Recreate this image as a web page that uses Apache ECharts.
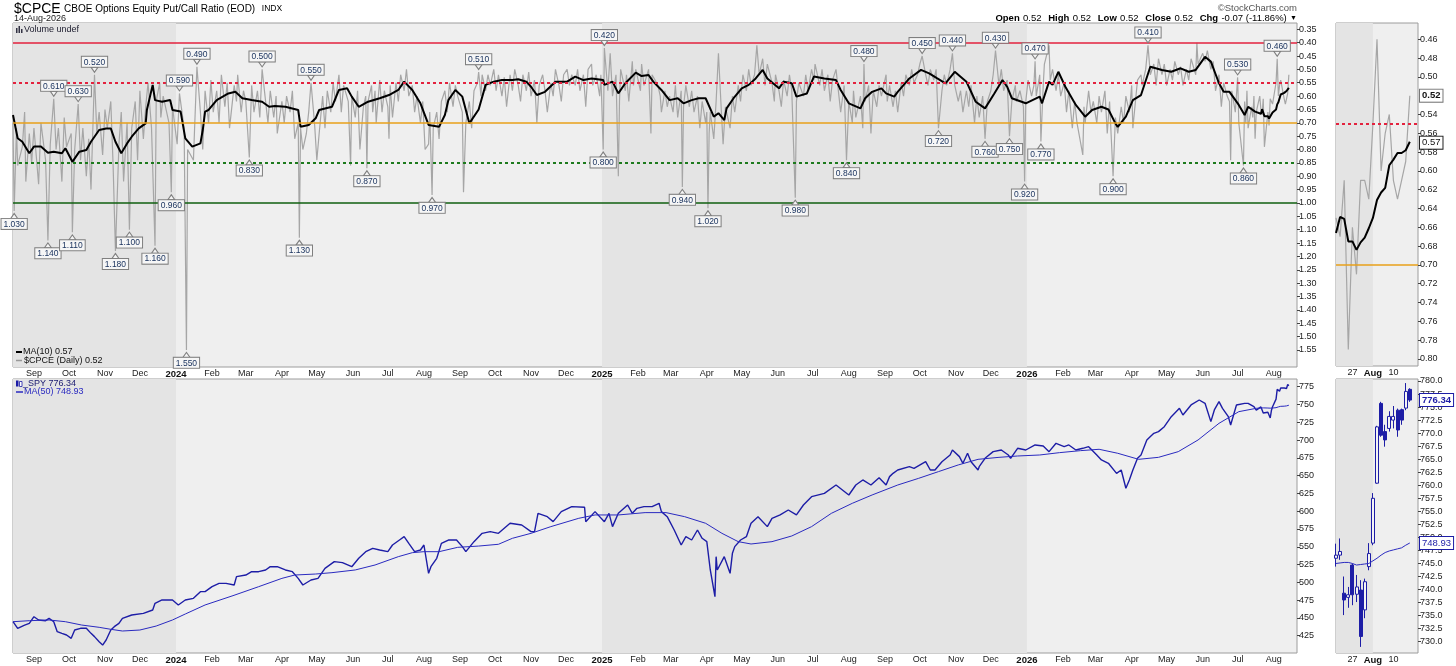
<!DOCTYPE html>
<html><head><meta charset="utf-8">
<script src="https://cdn.jsdelivr.net/npm/echarts@6/dist/echarts.min.js"></script>
<style>html,body{margin:0;padding:0;background:#fff}#c{width:1456px;height:666px}</style>
</head><body><div id="c"></div>
<script>
// ---------------- DATA ----------------
const monthTicks = ['2023-09-01','2023-10-01','2023-11-01','2023-12-01','2024-01-01','2024-02-01','2024-03-01','2024-04-01','2024-05-01','2024-06-01','2024-07-01','2024-08-01','2024-09-01','2024-10-01','2024-11-01','2024-12-01','2025-01-01','2025-02-01','2025-03-01','2025-04-01','2025-05-01','2025-06-01','2025-07-01','2025-08-01','2025-09-01','2025-10-01','2025-11-01','2025-12-01','2026-01-01','2026-02-01','2026-03-01','2026-04-01','2026-05-01','2026-06-01','2026-07-01','2026-08-01'];
const yearBands = ['2023-08-14','2024-01-01','2025-01-01','2026-01-01','2026-08-21'];
const cpceAxisTicks = [0.35,0.40,0.45,0.50,0.55,0.60,0.65,0.70,0.75,0.80,0.85,0.90,0.95,1.00,1.05,1.10,1.15,1.20,1.25,1.30,1.35,1.40,1.45,1.50,1.55];
const cpceZoomTicks = [0.46,0.48,0.50,0.54,0.56,0.58,0.60,0.62,0.64,0.66,0.68,0.70,0.72,0.74,0.76,0.78,0.80];
const spyAxisTicks = [425,450,475,500,525,550,575,600,625,650,675,700,725,750,775];
const spyZoomTicks = [730,732.5,735,737.5,740,742.5,745,747.5,750,752.5,755,757.5,760,762.5,765,767.5,770,772.5,775,777.5,780];
const cpceTags = [0.52, 0.57];
const spyTags = [776.34, 748.93];
const refLevels = [0.40, 0.55, 0.70, 0.85, 1.00];

const cpceDaily = [
['2023-08-14',0.70],['2023-08-15',1.03],['2023-08-17',0.72],['2023-08-18',0.86],['2023-08-22',0.79],['2023-08-24',0.66],['2023-08-25',0.92],['2023-08-28',0.74],['2023-08-30',0.85],['2023-09-01',0.72],['2023-09-05',0.93],['2023-09-07',0.70],['2023-09-11',0.84],['2023-09-13',1.14],['2023-09-15',0.78],['2023-09-18',0.61],['2023-09-20',0.80],['2023-09-22',0.72],['2023-09-25',0.92],['2023-09-27',0.68],['2023-09-29',0.79],['2023-10-03',0.74],['2023-10-04',1.11],['2023-10-06',0.80],['2023-10-09',0.63],['2023-10-11',0.84],['2023-10-13',0.72],['2023-10-16',0.90],['2023-10-18',0.76],['2023-10-20',0.95],['2023-10-23',0.52],['2023-10-25',0.74],['2023-10-27',0.66],['2023-10-30',0.82],['2023-11-01',0.65],['2023-11-03',0.72],['2023-11-06',0.62],['2023-11-08',0.86],['2023-11-10',1.18],['2023-11-13',0.78],['2023-11-15',0.66],['2023-11-17',0.92],['2023-11-20',0.70],['2023-11-22',1.10],['2023-11-24',0.72],['2023-11-27',0.62],['2023-11-29',0.84],['2023-12-01',0.58],['2023-12-04',0.76],['2023-12-06',0.64],['2023-12-08',0.55],['2023-12-11',0.72],['2023-12-14',1.16],['2023-12-15',0.62],['2023-12-18',0.55],['2023-12-19',0.68],['2023-12-21',0.60],['2023-12-26',0.70],['2023-12-28',0.96],['2023-12-29',0.64],
['2024-01-02',0.78],['2024-01-04',0.59],['2024-01-08',0.72],['2024-01-10',1.55],['2024-01-11',0.80],['2024-01-16',0.84],['2024-01-17',0.72],['2024-01-19',0.49],['2024-01-22',0.66],['2024-01-24',0.80],['2024-01-26',0.58],['2024-01-29',0.70],['2024-01-31',0.54],['2024-02-02',0.66],['2024-02-05',0.58],['2024-02-07',0.70],['2024-02-09',0.52],['2024-02-12',0.64],['2024-02-14',0.55],['2024-02-16',0.72],['2024-02-20',0.56],['2024-02-22',0.62],['2024-02-23',0.52],['2024-02-26',0.66],['2024-02-28',0.58],['2024-03-01',0.62],['2024-03-04',0.83],['2024-03-06',0.56],['2024-03-08',0.66],['2024-03-11',0.58],['2024-03-13',0.68],['2024-03-15',0.50],['2024-03-18',0.62],['2024-03-20',0.70],['2024-03-22',0.58],['2024-03-25',0.68],['2024-03-27',0.60],['2024-03-28',0.74],['2024-04-01',0.62],['2024-04-03',0.70],['2024-04-05',0.60],['2024-04-08',0.66],['2024-04-10',0.58],['2024-04-12',0.76],['2024-04-15',0.70],['2024-04-16',1.13],['2024-04-17',0.72],['2024-04-19',0.80],['2024-04-22',0.74],['2024-04-24',0.66],['2024-04-26',0.55],['2024-04-29',0.70],['2024-05-01',0.84],['2024-05-03',0.74],['2024-05-06',0.60],['2024-05-08',0.72],['2024-05-10',0.58],['2024-05-13',0.66],['2024-05-15',0.55],['2024-05-17',0.62],['2024-05-20',0.52],['2024-05-22',0.66],['2024-05-24',0.56],['2024-05-28',0.62],['2024-05-30',0.86],['2024-05-31',0.60],['2024-06-03',0.68],['2024-06-05',0.58],['2024-06-07',0.80],['2024-06-10',0.64],['2024-06-12',0.60],['2024-06-13',0.87],['2024-06-14',0.62],['2024-06-17',0.56],['2024-06-18',0.66],['2024-06-20',0.58],['2024-06-21',0.70],['2024-06-24',0.54],['2024-06-26',0.66],['2024-06-28',0.58],['2024-07-01',0.64],['2024-07-02',0.76],['2024-07-03',0.56],['2024-07-05',0.68],['2024-07-08',0.55],['2024-07-10',0.62],['2024-07-12',0.52],['2024-07-15',0.58],['2024-07-17',0.50],['2024-07-19',0.60],['2024-07-22',0.56],['2024-07-24',0.66],['2024-07-26',0.60],['2024-07-29',0.70],['2024-07-31',0.62],['2024-08-02',0.80],['2024-08-05',0.78],['2024-08-06',0.66],['2024-08-08',0.97],['2024-08-09',0.72],['2024-08-12',0.66],['2024-08-14',0.76],['2024-08-16',0.62],['2024-08-19',0.58],['2024-08-21',0.66],['2024-08-23',0.55],['2024-08-26',0.64],['2024-08-28',0.56],['2024-08-30',0.60],['2024-09-03',0.66],['2024-09-04',0.96],['2024-09-06',0.70],['2024-09-09',0.62],['2024-09-11',0.72],['2024-09-13',0.58],['2024-09-16',0.55],['2024-09-17',0.51],['2024-09-19',0.60],['2024-09-20',0.52],['2024-09-23',0.58],['2024-09-25',0.52],['2024-09-27',0.56],['2024-09-30',0.50],['2024-10-02',0.58],['2024-10-04',0.52],['2024-10-07',0.60],['2024-10-09',0.53],['2024-10-11',0.64],['2024-10-14',0.52],['2024-10-16',0.58],['2024-10-18',0.50],['2024-10-21',0.56],['2024-10-23',0.62],['2024-10-25',0.52],['2024-10-28',0.58],['2024-10-30',0.51],['2024-11-01',0.60],['2024-11-04',0.54],['2024-11-06',0.70],['2024-11-08',0.56],['2024-11-11',0.52],['2024-11-13',0.58],['2024-11-15',0.66],['2024-11-18',0.55],['2024-11-20',0.60],['2024-11-22',0.50],['2024-11-25',0.56],['2024-11-27',0.62],['2024-11-29',0.52],['2024-12-02',0.50],['2024-12-04',0.56],['2024-12-06',0.52],['2024-12-09',0.56],['2024-12-11',0.50],['2024-12-13',0.58],['2024-12-16',0.52],['2024-12-18',0.64],['2024-12-20',0.50],['2024-12-23',0.48],['2024-12-24',0.56],['2024-12-27',0.52],['2024-12-30',0.60],['2024-12-31',0.52],
['2025-01-02',0.80],['2025-01-03',0.42],['2025-01-06',0.58],['2025-01-08',0.44],['2025-01-10',0.60],['2025-01-13',0.52],['2025-01-15',0.90],['2025-01-16',0.62],['2025-01-17',0.50],['2025-01-21',0.58],['2025-01-22',0.52],['2025-01-24',0.62],['2025-01-27',0.47],['2025-01-28',0.56],['2025-01-30',0.50],['2025-02-03',0.58],['2025-02-04',0.48],['2025-02-06',0.56],['2025-02-10',0.50],['2025-02-12',0.74],['2025-02-13',0.52],['2025-02-18',0.56],['2025-02-20',0.60],['2025-02-21',0.66],['2025-02-24',0.58],['2025-02-26',0.64],['2025-02-28',0.60],['2025-03-03',0.66],['2025-03-05',0.56],['2025-03-07',0.68],['2025-03-10',0.58],['2025-03-11',0.94],['2025-03-12',0.64],['2025-03-14',0.56],['2025-03-17',0.64],['2025-03-19',0.58],['2025-03-21',0.66],['2025-03-24',0.60],['2025-03-26',0.72],['2025-03-28',0.62],['2025-03-31',0.70],['2025-04-01',0.66],['2025-04-02',1.02],['2025-04-03',0.74],['2025-04-04',0.66],['2025-04-07',0.76],['2025-04-09',0.62],['2025-04-11',0.44],['2025-04-14',0.70],['2025-04-15',0.78],['2025-04-17',0.64],['2025-04-21',0.72],['2025-04-23',0.60],['2025-04-25',0.66],['2025-04-28',0.56],['2025-04-30',0.62],['2025-05-02',0.52],['2025-05-05',0.58],['2025-05-07',0.50],['2025-05-09',0.56],['2025-05-12',0.52],['2025-05-14',0.41],['2025-05-16',0.52],['2025-05-19',0.46],['2025-05-21',0.56],['2025-05-23',0.48],['2025-05-27',0.55],['2025-05-29',0.62],['2025-05-30',0.52],['2025-06-02',0.58],['2025-06-04',0.64],['2025-06-06',0.54],['2025-06-09',0.60],['2025-06-11',0.52],['2025-06-13',0.58],['2025-06-16',0.98],['2025-06-17',0.62],['2025-06-19',0.55],['2025-06-23',0.60],['2025-06-25',0.52],['2025-06-27',0.58],['2025-06-30',0.50],['2025-07-02',0.54],['2025-07-03',0.48],['2025-07-07',0.56],['2025-07-09',0.50],['2025-07-11',0.58],['2025-07-14',0.52],['2025-07-16',0.62],['2025-07-18',0.54],['2025-07-21',0.50],['2025-07-23',0.58],['2025-07-25',0.66],['2025-07-28',0.56],['2025-07-30',0.84],['2025-08-01',0.62],['2025-08-04',0.70],['2025-08-05',0.58],['2025-08-07',0.68],['2025-08-11',0.60],['2025-08-13',0.72],['2025-08-14',0.48],['2025-08-15',0.62],['2025-08-18',0.56],['2025-08-20',0.74],['2025-08-22',0.58],['2025-08-25',0.64],['2025-08-27',0.56],['2025-08-29',0.60],['2025-09-02',0.52],['2025-09-03',0.62],['2025-09-05',0.56],['2025-09-08',0.64],['2025-09-10',0.58],['2025-09-12',0.66],['2025-09-15',0.55],['2025-09-17',0.60],['2025-09-19',0.52],['2025-09-22',0.56],['2025-09-24',0.50],['2025-09-26',0.55],['2025-09-29',0.52],['2025-10-01',0.48],['2025-10-03',0.45],['2025-10-06',0.52],['2025-10-08',0.56],['2025-10-10',0.50],['2025-10-13',0.54],['2025-10-15',0.50],['2025-10-17',0.72],['2025-10-20',0.58],['2025-10-22',0.52],['2025-10-24',0.56],['2025-10-27',0.50],['2025-10-29',0.44],['2025-10-31',0.56],['2025-11-03',0.62],['2025-11-05',0.58],['2025-11-07',0.66],['2025-11-10',0.58],['2025-11-12',0.64],['2025-11-14',0.56],['2025-11-17',0.70],['2025-11-19',0.60],['2025-11-21',0.68],['2025-11-24',0.60],['2025-11-26',0.76],['2025-11-28',0.62],['2025-12-01',0.58],['2025-12-03',0.52],['2025-12-05',0.43],['2025-12-08',0.56],['2025-12-10',0.50],['2025-12-12',0.58],['2025-12-15',0.54],['2025-12-17',0.75],['2025-12-19',0.62],['2025-12-22',0.56],['2025-12-23',0.62],['2025-12-26',0.58],['2025-12-29',0.64],['2025-12-30',0.92],['2025-12-31',0.62],
['2026-01-02',0.54],['2026-01-05',0.60],['2026-01-07',0.56],['2026-01-08',0.47],['2026-01-09',0.60],['2026-01-12',0.52],['2026-01-13',0.77],['2026-01-15',0.56],['2026-01-16',0.48],['2026-01-20',0.41],['2026-01-21',0.54],['2026-01-23',0.50],['2026-01-26',0.58],['2026-01-28',0.52],['2026-01-30',0.60],['2026-02-02',0.55],['2026-02-04',0.66],['2026-02-06',0.58],['2026-02-09',0.72],['2026-02-11',0.62],['2026-02-13',0.70],['2026-02-18',0.82],['2026-02-19',0.64],['2026-02-20',0.70],['2026-02-23',0.58],['2026-02-25',0.66],['2026-02-27',0.62],['2026-03-02',0.70],['2026-03-04',0.60],['2026-03-06',0.66],['2026-03-09',0.58],['2026-03-11',0.74],['2026-03-13',0.62],['2026-03-16',0.90],['2026-03-18',0.68],['2026-03-20',0.74],['2026-03-23',0.64],['2026-03-25',0.70],['2026-03-27',0.60],['2026-03-30',0.66],['2026-04-01',0.56],['2026-04-02',0.72],['2026-04-06',0.54],['2026-04-09',0.52],['2026-04-10',0.56],['2026-04-13',0.50],['2026-04-15',0.41],['2026-04-17',0.52],['2026-04-20',0.48],['2026-04-22',0.56],['2026-04-24',0.46],['2026-04-27',0.52],['2026-04-29',0.48],['2026-05-01',0.56],['2026-05-04',0.50],['2026-05-06',0.54],['2026-05-08',0.47],['2026-05-11',0.52],['2026-05-13',0.49],['2026-05-15',0.56],['2026-05-18',0.50],['2026-05-20',0.54],['2026-05-22',0.46],['2026-05-26',0.52],['2026-05-27',0.40],['2026-05-28',0.48],['2026-06-01',0.44],['2026-06-03',0.47],['2026-06-05',0.43],['2026-06-08',0.50],['2026-06-10',0.47],['2026-06-12',0.58],['2026-06-15',0.52],['2026-06-17',0.64],['2026-06-19',0.55],['2026-06-22',0.60],['2026-06-24',0.62],['2026-06-25',0.84],['2026-06-26',0.58],['2026-06-29',0.66],['2026-07-01',0.53],['2026-07-02',0.70],['2026-07-06',0.86],['2026-07-07',0.62],['2026-07-08',0.70],['2026-07-09',0.58],['2026-07-10',0.72],['2026-07-13',0.64],['2026-07-14',0.68],['2026-07-15',0.60],['2026-07-16',0.76],['2026-07-17',0.66],['2026-07-20',0.60]
];

const ma10Main = [
['2023-08-14',0.671],['2023-08-18',0.758],['2023-08-22',0.771],['2023-08-28',0.814],['2023-09-01',0.789],['2023-09-07',0.789],['2023-09-13',0.812],['2023-09-18',0.808],['2023-09-25',0.814],['2023-09-28',0.795],['2023-10-04',0.846],['2023-10-10',0.808],['2023-10-16',0.802],['2023-10-20',0.771],['2023-10-27',0.727],['2023-11-02',0.721],['2023-11-06',0.721],['2023-11-10',0.771],['2023-11-15',0.814],['2023-11-20',0.777],['2023-11-24',0.752],['2023-11-30',0.721],['2023-12-06',0.702],['2023-12-07',0.652],['2023-12-12',0.558],['2023-12-14',0.615],['2023-12-20',0.621],['2023-12-27',0.615],['2023-12-29',0.652],
['2024-01-05',0.658],['2024-01-09',0.758],['2024-01-15',0.789],['2024-01-22',0.777],['2024-01-24',0.727],['2024-01-26',0.658],['2024-01-29',0.652],['2024-02-05',0.615],['2024-02-15',0.590],['2024-02-21',0.584],['2024-02-27',0.608],['2024-03-06',0.615],['2024-03-15',0.621],['2024-03-21',0.640],['2024-03-26',0.637],['2024-04-04',0.640],['2024-04-15',0.652],['2024-04-17',0.715],['2024-04-24',0.708],['2024-04-30',0.683],['2024-05-03',0.652],['2024-05-14',0.640],['2024-05-20',0.577],['2024-05-27',0.571],['2024-05-31',0.602],['2024-06-06',0.640],['2024-06-14',0.621],['2024-06-24',0.608],['2024-07-02',0.596],['2024-07-10',0.577],['2024-07-15',0.546],['2024-07-22',0.577],['2024-07-29',0.627],['2024-08-05',0.708],['2024-08-14',0.715],['2024-08-19',0.671],['2024-08-22',0.615],['2024-08-28',0.577],['2024-09-03',0.602],['2024-09-09',0.702],['2024-09-17',0.650],['2024-09-23',0.558],['2024-09-30',0.546],['2024-10-07',0.540],['2024-10-16',0.540],['2024-10-21',0.537],['2024-10-28',0.546],['2024-11-01',0.565],['2024-11-06',0.596],['2024-11-13',0.584],['2024-11-22',0.546],['2024-12-02',0.546],['2024-12-09',0.527],['2024-12-16',0.540],['2024-12-23',0.534],
['2025-01-02',0.540],['2025-01-03',0.558],['2025-01-10',0.546],['2025-01-15',0.590],['2025-01-21',0.552],['2025-01-30',0.512],['2025-02-04',0.525],['2025-02-10',0.521],['2025-02-14',0.546],['2025-02-21',0.577],['2025-02-28',0.615],['2025-03-07',0.608],['2025-03-12',0.627],['2025-03-19',0.615],['2025-03-25',0.608],['2025-03-31',0.608],['2025-04-07',0.677],['2025-04-11',0.664],['2025-04-16',0.690],['2025-04-18',0.646],['2025-04-24',0.608],['2025-05-01',0.571],['2025-05-07',0.558],['2025-05-13',0.534],['2025-05-19',0.502],['2025-05-23',0.534],['2025-06-02',0.571],['2025-06-06',0.546],['2025-06-13',0.552],['2025-06-17',0.602],['2025-06-26',0.590],['2025-07-02',0.527],['2025-07-11',0.534],['2025-07-21',0.540],['2025-07-25',0.577],['2025-08-01',0.627],['2025-08-11',0.646],['2025-08-15',0.608],['2025-08-21',0.584],['2025-08-29',0.571],['2025-09-02',0.590],['2025-09-09',0.602],['2025-09-12',0.584],['2025-09-22',0.534],['2025-10-02',0.502],['2025-10-09',0.515],['2025-10-16',0.534],['2025-10-23',0.552],['2025-10-31',0.509],['2025-11-10',0.546],['2025-11-18',0.621],['2025-11-26',0.646],['2025-12-04',0.590],['2025-12-11',0.540],['2025-12-15',0.565],['2025-12-19',0.608],['2025-12-31',0.627],
['2026-01-12',0.602],['2026-01-14',0.627],['2026-01-20',0.546],['2026-01-23',0.558],['2026-01-28',0.509],['2026-02-03',0.565],['2026-02-12',0.633],['2026-02-20',0.677],['2026-02-26',0.652],['2026-03-06',0.640],['2026-03-12',0.650],['2026-03-18',0.702],['2026-03-20',0.715],['2026-03-27',0.677],['2026-04-02',0.615],['2026-04-09',0.596],['2026-04-17',0.490],['2026-04-27',0.502],['2026-05-05',0.509],['2026-05-13',0.496],['2026-05-20',0.509],['2026-05-26',0.502],['2026-06-03',0.453],['2026-06-08',0.471],['2026-06-15',0.552],['2026-06-19',0.584],['2026-06-24',0.584],['2026-07-02',0.633],['2026-07-07',0.671],['2026-07-10',0.640],['2026-07-16',0.658]
];

const cpcePeaks = [
['2023-08-15',1.03],['2023-09-13',1.14],['2023-09-18',0.61],['2023-10-04',1.11],['2023-10-09',0.63],['2023-10-23',0.52],['2023-11-10',1.18],['2023-11-22',1.10],['2023-12-14',1.16],['2023-12-28',0.96],['2024-01-04',0.59],['2024-01-10',1.55],['2024-01-19',0.49],['2024-03-04',0.83],['2024-03-15',0.50],['2024-04-16',1.13],['2024-04-26',0.55],['2024-06-13',0.87],['2024-08-08',0.97],['2024-09-17',0.51],['2025-01-02',0.80],['2025-01-03',0.42],['2025-03-11',0.94],['2025-04-02',1.02],['2025-06-16',0.98],['2025-07-30',0.84],['2025-08-14',0.48],['2025-10-03',0.45],['2025-10-17',0.72],['2025-10-29',0.44],['2025-11-26',0.76],['2025-12-05',0.43],['2025-12-17',0.75],['2025-12-30',0.92],['2026-01-08',0.47],['2026-01-13',0.77],['2026-03-16',0.90],['2026-04-15',0.41],['2026-07-01',0.53],['2026-07-06',0.86],['2026-08-04',0.46]
];

const recentDates = ['2026-07-21','2026-07-22','2026-07-23','2026-07-24','2026-07-27','2026-07-28','2026-07-29','2026-07-30','2026-07-31','2026-08-03','2026-08-04','2026-08-05','2026-08-06','2026-08-07','2026-08-10','2026-08-11','2026-08-12','2026-08-13','2026-08-14'];
const padDates = ['2026-08-17','2026-08-18'];
const cpceRecent = [0.65,0.67,0.61,0.79,0.66,0.71,0.61,0.61,0.63,0.55,0.46,0.60,0.56,0.54,0.61,0.63,0.61,0.59,0.52];
const ma10Recent = [0.666,0.649,0.651,0.675,0.675,0.684,0.676,0.671,0.661,0.650,0.631,0.623,0.618,0.594,0.588,0.581,0.581,0.578,0.569];

// SPY: [open, close, low, high]
const spyRecent = [
[746.0,746.6,744.4,748.8],[746.6,747.3,745.7,749.8],[739.3,738.0,735.1,742.5],[738.5,739.0,736.5,740.5],[744.7,739.0,737.0,745.0],[739.1,740.5,737.6,742.8],[739.9,731.0,729.0,741.8],[736.1,741.5,734.5,742.1],[744.4,746.9,743.7,748.9],[748.9,757.5,748.5,758.5],[760.4,771.2,760.3,771.4],[775.7,769.6,769.3,776.0],[770.3,768.7,767.4,771.6],[770.9,773.2,770.3,774.2],[772.5,773.2,770.9,775.2],[774.4,770.6,769.3,774.7],[774.5,772.5,771.6,774.7],[774.8,778.0,774.4,779.6],[778.4,776.34,776.0,778.6]
];
const ma50Recent = [745.0,745.1,745.2,745.2,745.0,744.7,744.8,744.9,745.0,745.5,746.0,746.6,747.1,747.4,747.6,747.8,748.0,748.5,748.93];

const spyMain = [
['2023-08-14',444.7],['2023-08-18',435.4],['2023-08-24',440.0],['2023-08-28',442.4],['2023-09-01',451.7],['2023-09-05',447.1],['2023-09-11',446.1],['2023-09-14',449.4],['2023-09-18',444.7],['2023-09-21',430.7],['2023-09-25',428.3],['2023-09-29',426.0],['2023-10-03',421.3],['2023-10-06',433.0],['2023-10-11',435.4],['2023-10-16',435.4],['2023-10-20',428.3],['2023-10-23',423.7],['2023-10-27',416.6],['2023-10-30',411.9],['2023-11-02',419.0],['2023-11-06',433.0],['2023-11-09',437.7],['2023-11-13',442.4],['2023-11-16',449.4],['2023-11-24',454.1],['2023-12-04',456.4],['2023-12-12',461.1],['2023-12-14',470.5],['2023-12-20',475.2],['2023-12-29',475.2],
['2024-01-03',468.2],['2024-01-09',475.2],['2024-01-16',477.5],['2024-01-22',486.9],['2024-01-26',486.9],['2024-02-01',493.9],['2024-02-07',498.6],['2024-02-13',498.6],['2024-02-20',496.3],['2024-02-22',508.0],['2024-03-01',510.3],['2024-03-06',515.0],['2024-03-12',515.0],['2024-03-18',517.4],['2024-03-22',522.0],['2024-03-28',522.0],['2024-04-04',517.4],['2024-04-10',515.0],['2024-04-15',505.6],['2024-04-19',496.3],['2024-04-26',503.3],['2024-05-02',505.6],['2024-05-08',519.7],['2024-05-16',529.1],['2024-05-23',527.7],['2024-05-31',522.0],['2024-06-06',533.8],['2024-06-12',543.1],['2024-06-18',547.8],['2024-06-24',545.5],['2024-07-01',543.1],['2024-07-05',552.5],['2024-07-11',559.5],['2024-07-15',564.2],['2024-07-19',554.8],['2024-07-24',543.1],['2024-07-29',545.5],['2024-08-01',552.5],['2024-08-05',512.7],['2024-08-07',522.0],['2024-08-12',533.8],['2024-08-16',554.8],['2024-08-22',559.5],['2024-08-29',559.5],['2024-09-03',550.2],['2024-09-06',543.1],['2024-09-13',557.2],['2024-09-20',568.9],['2024-09-27',571.3],['2024-10-04',568.9],['2024-10-14',583.0],['2024-10-24',580.6],['2024-11-01',571.3],['2024-11-04',571.3],['2024-11-07',597.0],['2024-11-15',592.3],['2024-11-20',585.3],['2024-11-27',599.4],['2024-12-06',606.4],['2024-12-17',605.5],['2024-12-18',585.3],['2024-12-26',599.4],
['2025-01-03',585.3],['2025-01-07',597.0],['2025-01-10',578.3],['2025-01-15',597.0],['2025-01-23',608.7],['2025-01-27',597.0],['2025-01-31',604.0],['2025-02-06',606.4],['2025-02-13',606.4],['2025-02-19',611.1],['2025-02-21',599.4],['2025-02-26',592.3],['2025-03-04',573.6],['2025-03-10',552.5],['2025-03-14',564.2],['2025-03-19',559.5],['2025-03-24',573.6],['2025-03-28',561.9],['2025-04-01',557.2],['2025-04-04',517.4],['2025-04-08',479.9],['2025-04-09',536.1],['2025-04-10',517.4],['2025-04-16',536.1],['2025-04-21',512.7],['2025-04-23',540.8],['2025-04-25',550.2],['2025-04-30',559.5],['2025-05-05',564.2],['2025-05-09',583.0],['2025-05-15',592.3],['2025-05-23',578.3],['2025-05-27',590.0],['2025-06-03',594.7],['2025-06-10',601.7],['2025-06-17',594.7],['2025-06-23',608.7],['2025-06-30',620.4],['2025-07-11',625.1],['2025-07-21',636.8],['2025-08-01',622.8],['2025-08-07',636.8],['2025-08-13',643.9],['2025-08-20',636.8],['2025-08-27',647.0],['2025-09-02',636.8],['2025-09-05',648.6],['2025-09-08',653.2],['2025-09-12',657.9],['2025-09-22',662.6],['2025-09-26',660.3],['2025-10-06',669.6],['2025-10-10',657.9],['2025-10-14',657.9],['2025-10-20',669.6],['2025-10-27',679.0],['2025-10-29',686.0],['2025-11-04',676.7],['2025-11-07',667.3],['2025-11-11',681.4],['2025-11-14',669.6],['2025-11-20',657.9],['2025-11-21',662.6],['2025-11-26',674.3],['2025-12-03',683.7],['2025-12-10',686.0],['2025-12-16',679.0],['2025-12-18',674.3],['2025-12-24',688.4],['2025-12-31',686.0],
['2026-01-08',693.1],['2026-01-15',691.7],['2026-01-20',683.7],['2026-01-26',695.4],['2026-02-02',690.7],['2026-02-06',693.1],['2026-02-12',686.0],['2026-02-18',688.4],['2026-02-23',690.7],['2026-03-02',679.0],['2026-03-06',672.0],['2026-03-12',667.3],['2026-03-19',653.2],['2026-03-23',657.9],['2026-03-27',632.2],['2026-03-30',643.9],['2026-04-02',657.9],['2026-04-06',674.3],['2026-04-09',679.0],['2026-04-14',700.1],['2026-04-20',709.5],['2026-04-24',711.8],['2026-04-29',718.8],['2026-05-05',732.9],['2026-05-12',744.6],['2026-05-15',735.2],['2026-05-22',749.3],['2026-05-29',756.3],['2026-06-03',751.6],['2026-06-08',725.9],['2026-06-11',742.3],['2026-06-15',754.0],['2026-06-18',744.6],['2026-06-23',732.9],['2026-06-25',721.2],['2026-06-30',749.3],['2026-07-07',751.6],['2026-07-10',751.6],['2026-07-15',747.0],['2026-07-17',742.0]
];

const ma50Main = [
['2023-08-14',444.7],['2023-08-28',446.1],['2023-09-14',447.1],['2023-09-28',444.7],['2023-10-12',440.0],['2023-10-27',436.8],['2023-11-06',434.0],['2023-11-16',431.6],['2023-12-01',433.0],['2023-12-15',438.6],['2023-12-29',447.1],['2024-01-09',455.5],['2024-01-26',468.2],['2024-02-19',481.3],['2024-03-12',493.9],['2024-04-01',505.6],['2024-04-12',510.3],['2024-04-30',511.7],['2024-05-14',513.6],['2024-06-03',517.4],['2024-06-20',524.4],['2024-07-10',536.1],['2024-07-22',541.7],['2024-08-01',543.1],['2024-08-14',543.1],['2024-08-30',549.2],['2024-09-17',551.0],['2024-10-04',553.5],['2024-10-16',561.9],['2024-11-01',568.9],['2024-11-18',578.3],['2024-12-12',590.0],['2024-12-26',594.7],['2025-01-15',594.7],['2025-02-07',598.0],['2025-02-25',598.0],['2025-03-13',592.3],['2025-03-31',583.0],['2025-04-14',568.9],['2025-04-28',557.2],['2025-05-09',553.9],['2025-05-27',557.2],['2025-06-13',565.2],['2025-06-30',578.3],['2025-07-17',597.0],['2025-08-04',611.1],['2025-08-21',622.8],['2025-09-12',636.8],['2025-09-30',646.2],['2025-10-17',655.6],['2025-11-03',665.0],['2025-11-20',672.9],['2025-12-08',675.7],['2025-12-24',677.6],['2026-01-12',679.0],['2026-01-29',682.3],['2026-02-16',685.1],['2026-03-04',687.0],['2026-03-20',681.4],['2026-04-07',672.9],['2026-04-24',675.7],['2026-05-11',683.7],['2026-05-28',700.1],['2026-06-15',723.5],['2026-07-02',739.9],['2026-07-17',744.6]
];

// ---------------- BUILD ----------------
const FONT = '"Liberation Sans", Arial, sans-serif';
const BLUE = '#1d1da6';
function ts(s){const p=s.split('-');return new Date(+p[0],p[1]-1,+p[2]).getTime();}
const monthAbbr=['Jan','Feb','Mar','Apr','May','Jun','Jul','Aug','Sep','Oct','Nov','Dec'];
function monthFmt(v){const d=new Date(v);return d.getMonth()===0?'{y|'+d.getFullYear()+'}':monthAbbr[d.getMonth()];}
const zoomLabels = {'2026-07-27':'27','2026-08-03':'{b|Aug}','2026-08-10':'10'};

const allRecentCats = recentDates.concat(padDates);
const toPts = arr => arr.map(p=>[ts(p[0]),p[1]]);
const cpceAll = toPts(cpceDaily.concat(recentDates.map((d,i)=>[d,cpceRecent[i]])));
const ma10All = toPts(ma10Main.concat(recentDates.map((d,i)=>[d,ma10Recent[i]])));
const spyAll = toPts(spyMain.concat(recentDates.map((d,i)=>[d,spyRecent[i][1]])));
const ma50All = toPts(ma50Main.concat(recentDates.map((d,i)=>[d,ma50Recent[i]])));

const refStyles = [
  {color:'#e3223e',width:1.5,type:'solid'},
  {color:'#e3223e',width:2,type:[3,3]},
  {color:'#e8a01a',width:1.5,type:'solid'},
  {color:'#1d7a1d',width:2,type:[3,3]},
  {color:'#0f5f0f',width:1.5,type:'solid'}
];

const DARK = '#e4e4e4', LIGHT = '#efefef';
function bands(){
  return [[{xAxis:ts(yearBands[0])},{xAxis:ts(yearBands[1])}],[{xAxis:ts(yearBands[2])},{xAxis:ts(yearBands[3])}]];
}
const gridBase = {show:true, backgroundColor:LIGHT, borderColor:'#9c9c9c', borderWidth:1, outerBoundsMode:'none', containLabel:false};
const axLbl = {fontFamily:FONT, fontSize:9, color:'#222'};

function timeX(gi){
  return {type:'value', gridIndex:gi, min:ts(yearBands[0]), max:ts(yearBands[4]), scale:true,
    axisLine:{show:false}, axisTick:{show:false}, splitLine:{show:false},
    axisLabel:Object.assign({}, axLbl, {customValues:monthTicks.map(ts), formatter:monthFmt, margin:2, hideOverlap:false,
      rich:{y:{fontWeight:'bold',fontSize:9.5,fontFamily:FONT,color:'#111'}}})};
}
function catX(gi){
  return {type:'category', gridIndex:gi, data:allRecentCats, boundaryGap:false,
    axisLine:{show:false}, axisTick:{show:false}, splitLine:{show:false},
    axisLabel:Object.assign({}, axLbl, {interval:0, margin:2, formatter:v=>zoomLabels[v]||'',
      rich:{b:{fontWeight:'bold',fontSize:9.5,fontFamily:FONT,color:'#111'}}})};
}
function valY(gi, min, max, ticks, fmt, inverse){
  return {type:'value', gridIndex:gi, position:'right', min:min, max:max, inverse:!!inverse,
    axisLine:{show:false}, splitLine:{show:false},
    axisTick:{show:true, length:3, customValues:ticks, lineStyle:{color:'#444'}},
    axisLabel:Object.assign({}, axLbl, {customValues:ticks, formatter:fmt, margin:2})};
}
function tagY(gi, min, max, tags, fmt, inverse){
  return {type:'value', gridIndex:gi, position:'right', min:min, max:max, inverse:!!inverse, z:5,
    axisLine:{show:false}, splitLine:{show:false}, axisTick:{show:false},
    axisLabel:{customValues:tags, formatter:fmt, margin:2, fontFamily:FONT, fontSize:9.5,
      rich:{
        k:{fontWeight:'bold',color:'#111',backgroundColor:'#fff',borderColor:'#777',borderWidth:1,padding:[1,2],fontSize:9.5,fontFamily:FONT},
        n:{color:'#111',backgroundColor:'#fff',borderColor:'#222',borderWidth:1,padding:[1,2],fontSize:9.5,fontFamily:FONT},
        bk:{fontWeight:'bold',color:BLUE,backgroundColor:'#fff',borderColor:BLUE,borderWidth:1,padding:[1,2],fontSize:9.5,fontFamily:FONT},
        bn:{color:BLUE,backgroundColor:'#fff',borderColor:BLUE,borderWidth:1,padding:[1,2],fontSize:9.5,fontFamily:FONT}
      }}};
}

const peakPoints = cpcePeaks.map(p=>{
  const top = p[1] < 0.7;
  return {coord:[ts(p[0]), p[1]], value:p[1], symbolRotate: top?180:0, symbolOffset:[0, top?-5:5],
    label:{position: top?'top':'bottom'}};
});

const option = {
  animation:false,
  textStyle:{fontFamily:FONT},
  grid:[
    Object.assign({left:13, top:23, width:1284, height:344}, gridBase),
    Object.assign({left:13, top:379, width:1284, height:274}, gridBase),
    Object.assign({left:1336, top:23, width:82, height:343}, gridBase),
    Object.assign({left:1336, top:379, width:82, height:274}, gridBase)
  ],
  xAxis:[timeX(0), timeX(1), catX(2), catX(3)],
  yAxis:[
    valY(0, 0.3264, 1.614, cpceAxisTicks, v=>v.toFixed(2), true),
    valY(1, 400.7, 785.8, spyAxisTicks, v=>String(Math.round(v))),
    valY(2, 0.4427, 0.8075, cpceZoomTicks, v=>v.toFixed(2), true),
    valY(3, 727.83, 780.38, spyZoomTicks, v=>v.toFixed(1)),
    tagY(2, 0.4427, 0.8075, cpceTags, v=> Math.abs(v-cpceTags[0])<1e-6 ? '{k|'+v.toFixed(2)+'}' : '{n|'+v.toFixed(2)+'}', true),
    tagY(3, 727.83, 780.38, spyTags, v=> Math.abs(v-spyTags[0])<1e-6 ? '{bk|'+v.toFixed(2)+'}' : '{bn|'+v.toFixed(2)+'}')
  ],
  series:[
    {type:'line', xAxisIndex:0, yAxisIndex:0, data:[], z:0, silent:true,
      markArea:{silent:true, itemStyle:{color:DARK}, data:bands()}},
    {type:'line', xAxisIndex:1, yAxisIndex:1, data:[], z:0, silent:true,
      markArea:{silent:true, itemStyle:{color:DARK}, data:bands()}},
    {type:'line', xAxisIndex:2, yAxisIndex:2, data:[], z:0, silent:true,
      markArea:{silent:true, itemStyle:{color:DARK}, data:[[{xAxis:recentDates[0]},{xAxis:'2026-08-03'}]]}},
    {type:'line', xAxisIndex:3, yAxisIndex:3, data:[], z:0, silent:true,
      markArea:{silent:true, itemStyle:{color:DARK}, data:[[{xAxis:recentDates[0]},{xAxis:'2026-08-03'}]]}},
    {type:'line', name:'$CPCE', xAxisIndex:0, yAxisIndex:0, data:cpceAll, showSymbol:false, z:3,
      lineStyle:{color:'#a6a6a6', width:1.2},
      markLine:{silent:true, symbol:'none', label:{show:false},
        data: refLevels.map((v,i)=>({yAxis:v, lineStyle:refStyles[i]}))},
      markPoint:{silent:true, symbol:'triangle', symbolSize:[7,5],
        itemStyle:{color:'#f4f4f4', borderColor:'#7f7f7f', borderWidth:1},
        label:{show:true, formatter:p=>Number(p.value).toFixed(3), distance:0, fontFamily:FONT, fontSize:8.5, color:'#17305c',
          backgroundColor:'#f6f6f6', borderColor:'#7f7f7f', borderWidth:1, padding:[1,2,0,2]},
        data:peakPoints}},
    {type:'line', name:'MA(10)', xAxisIndex:0, yAxisIndex:0, data:ma10All, showSymbol:false, z:4,
      lineStyle:{color:'#000', width:2}},
    {type:'line', xAxisIndex:2, yAxisIndex:2, data:cpceRecent, showSymbol:false, z:3,
      lineStyle:{color:'#a6a6a6', width:1.2},
      markLine:{silent:true, symbol:'none', label:{show:false},
        data:[{yAxis:refLevels[1], lineStyle:refStyles[1]},{yAxis:refLevels[2], lineStyle:refStyles[2]}]}},
    {type:'line', xAxisIndex:2, yAxisIndex:2, data:ma10Recent, showSymbol:false, z:4,
      lineStyle:{color:'#000', width:2}},
    {type:'line', xAxisIndex:1, yAxisIndex:1, data:spyAll, showSymbol:false, z:3,
      lineStyle:{color:BLUE, width:1.4}},
    {type:'line', xAxisIndex:1, yAxisIndex:1, data:ma50All, showSymbol:false, z:3,
      lineStyle:{color:'#2a2ac0', width:1}},
    {type:'candlestick', xAxisIndex:3, yAxisIndex:3, data:spyRecent, barWidth:3.5, z:3,
      itemStyle:{color:'#f4f4f4', color0:BLUE, borderColor:BLUE, borderColor0:BLUE, borderWidth:1}},
    {type:'line', xAxisIndex:3, yAxisIndex:3, data:ma50Recent, showSymbol:false, z:4,
      lineStyle:{color:'#2a2ac0', width:1}}
  ],
  graphic:{elements:[
    {type:'text', z:100, x:14, y:9, style:{text:'{a|$CPCE} {b|CBOE Options Equity Put/Call Ratio (EOD)}  {c|INDX}', verticalAlign:'middle',
      rich:{a:{fontSize:14, fontFamily:FONT, color:'#1a1a1a'}, b:{fontSize:10, fontFamily:FONT, color:'#222'}, c:{fontSize:8.5, fontFamily:FONT, color:'#333'}}}},
    {type:'text', z:100, x:14, y:18.5, style:{text:'14-Aug-2026', font:'9px '+FONT, fill:'#222', verticalAlign:'middle'}},
    {type:'text', z:100, x:1297, y:8, style:{text:'\u00A9StockCharts.com', font:'9.5px '+FONT, fill:'#555', align:'right', verticalAlign:'middle'}},
    {type:'text', z:100, x:1297, y:18.5, style:{align:'right', verticalAlign:'middle',
      text:'{h|Open} {v|0.52}  {h|High} {v|0.52}  {h|Low} {v|0.52}  {h|Close} {v|0.52}  {h|Chg} {v|-0.07 (-11.86%)} {r|\u25BC}',
      rich:{h:{fontWeight:'bold', fontSize:9.5, fontFamily:FONT, color:'#111'}, v:{fontSize:9.5, fontFamily:FONT, color:'#222'}, r:{fontSize:7, color:'#d0182c'}}}},
    {type:'rect', z:100, shape:{x:16, y:28, width:1.5, height:5}, style:{fill:'#334'}},
    {type:'rect', z:100, shape:{x:18.5, y:26, width:1.5, height:7}, style:{fill:'#334'}},
    {type:'rect', z:100, shape:{x:21, y:29, width:1.5, height:4}, style:{fill:'#334'}},
    {type:'text', z:100, x:24, y:30, style:{text:'Volume undef', font:'9px '+FONT, fill:'#223', verticalAlign:'middle'}},
    {type:'line', z:100, shape:{x1:16, y1:352, x2:22, y2:352}, style:{stroke:'#000', lineWidth:2}},
    {type:'text', z:100, x:23, y:352, style:{text:'MA(10) 0.57', font:'9px '+FONT, fill:'#111', verticalAlign:'middle'}},
    {type:'line', z:100, shape:{x1:16, y1:360.5, x2:22, y2:360.5}, style:{stroke:'#999', lineWidth:1.5}},
    {type:'text', z:100, x:24, y:360.5, style:{text:'$CPCE (Daily) 0.52', font:'9px '+FONT, fill:'#111', verticalAlign:'middle'}},
    {type:'rect', z:100, shape:{x:16, y:380.5, width:2.5, height:6}, style:{fill:BLUE}},
    {type:'rect', z:100, shape:{x:19.5, y:381.5, width:2.5, height:5}, style:{fill:'#fff', stroke:BLUE, lineWidth:0.8}},
    {type:'text', z:100, x:23, y:384, style:{text:'_SPY 776.34', font:'9px '+FONT, fill:'#1a1a70', verticalAlign:'middle'}},
    {type:'line', z:100, shape:{x1:16, y1:392, x2:23, y2:392}, style:{stroke:'#2a2ac0', lineWidth:1.5}},
    {type:'text', z:100, x:24, y:392, style:{text:'MA(50) 748.93', font:'9px '+FONT, fill:'#2a2ac0', verticalAlign:'middle'}}
  ]}
};

const chart = echarts.init(document.getElementById('c'), null, {renderer:'canvas'});
chart.setOption(option);
</script></body></html>
